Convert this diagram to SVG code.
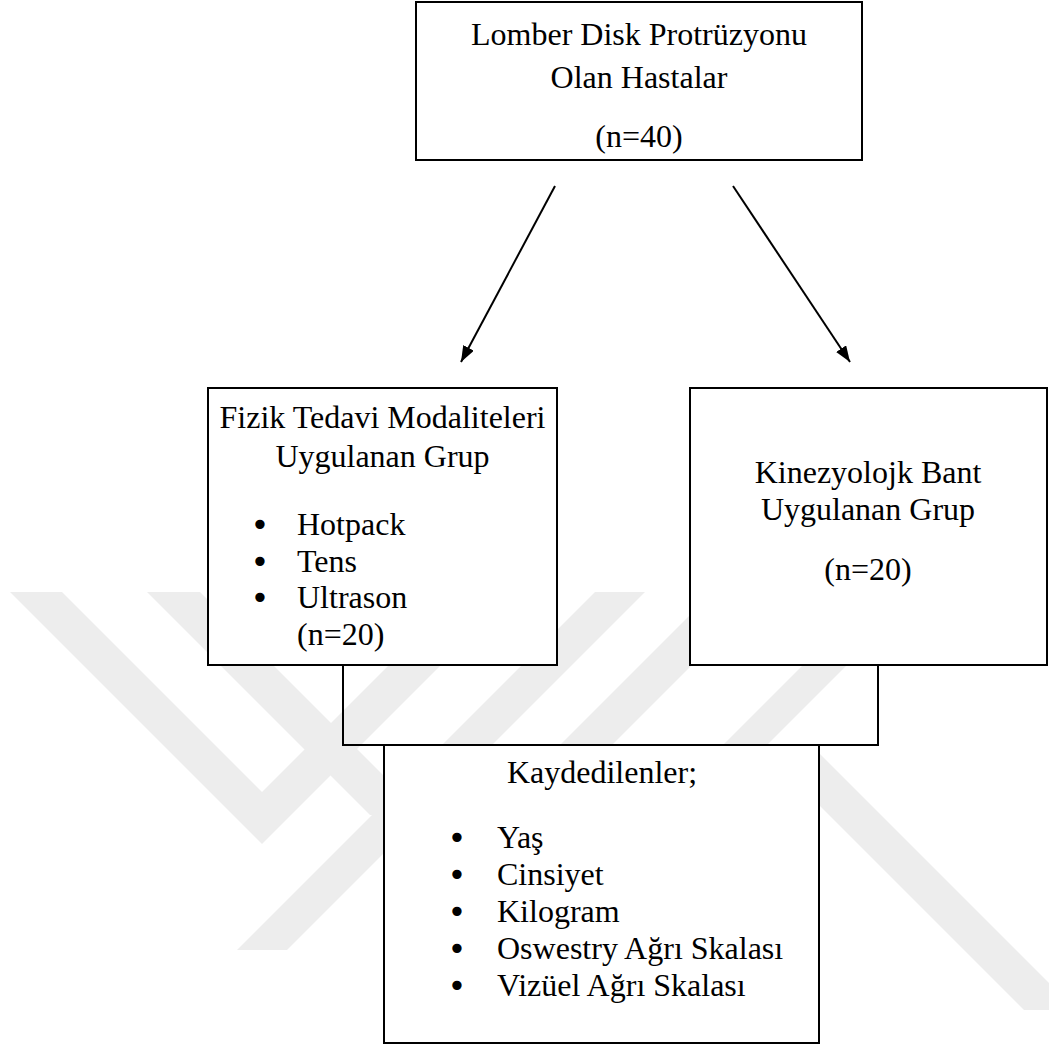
<svg xmlns="http://www.w3.org/2000/svg" width="1049" height="1048" viewBox="0 0 1049 1048">
<style>
.box{fill:#ffffff;stroke:#000;stroke-width:2}
.t{font-family:"Liberation Serif","Times New Roman",serif;font-size:32px;fill:#000}
.b{font-family:"DejaVu Sans",sans-serif;font-size:32px;fill:#000;text-anchor:middle}
.c{text-anchor:middle}
.wm{fill:#ededed}
.conn{fill:none;stroke:#000;stroke-width:2}
</style>
<defs>
<marker id="ahs" viewBox="0 0 16 12" refX="16" refY="6" markerWidth="16" markerHeight="12" markerUnits="userSpaceOnUse" orient="auto">
<path d="M0,0 L16,6 L0,12 z" fill="#000"/>
</marker>
</defs>
<rect width="1049" height="1048" fill="#ffffff"/>
<g id="watermark">
<polygon class="wm" points="10,592 62,592 262,792 462,592 514,592 262,844"/>
<polygon class="wm" points="147,592 200,592 423,815 370,815"/>
<polygon class="wm" points="595,592 645,592 287,950 237,950"/>
<polygon class="wm" points="713,592 765,592 597,760 545,760"/>
<polygon class="wm" points="876,592 920,592 752,760 708,760"/>
<polygon class="wm" points="759,745 811,745 1076,1010 1024,1010"/>
</g>
<g id="connectors">
<line class="conn" x1="555" y1="186" x2="461" y2="362" marker-end="url(#ahs)"/>
<line class="conn" x1="733" y1="186" x2="850" y2="362" marker-end="url(#ahs)"/>
<path class="conn" d="M343,665 V745 H878 V665"/>
</g>
<g id="node-top">
<rect class="box" x="416" y="2" width="446" height="158"/>
<text class="t c" x="639" y="45">Lomber Disk Protrüzyonu</text>
<text class="t c" x="639" y="88">Olan Hastalar</text>
<text class="t c" x="639" y="147">(n=40)</text>
</g>
<g id="node-left">
<rect class="box" x="208" y="388" width="349" height="277"/>
<text class="t c" x="382.5" y="428">Fizik Tedavi Modaliteleri</text>
<text class="t c" x="382.5" y="467">Uygulanan Grup</text>
<text class="b" x="260" y="536">•</text>
<text class="t" x="297" y="535">Hotpack</text>
<text class="b" x="260" y="573">•</text>
<text class="t" x="297" y="572">Tens</text>
<text class="b" x="260" y="609">•</text>
<text class="t" x="297" y="608">Ultrason</text>
<text class="t" x="297" y="645">(n=20)</text>
</g>
<g id="node-right">
<rect class="box" x="690" y="388" width="357" height="277"/>
<text class="t c" x="868" y="483">Kinezyolojk Bant</text>
<text class="t c" x="868" y="520">Uygulanan Grup</text>
<text class="t c" x="868" y="580">(n=20)</text>
</g>
<g id="node-bottom">
<rect class="box" x="384" y="745" width="435" height="298"/>
<text class="t c" x="602" y="783">Kaydedilenler;</text>
<text class="b" x="457" y="849">•</text>
<text class="t" x="497" y="848">Yaş</text>
<text class="b" x="457" y="886">•</text>
<text class="t" x="497" y="885">Cinsiyet</text>
<text class="b" x="457" y="923">•</text>
<text class="t" x="497" y="922">Kilogram</text>
<text class="b" x="457" y="960">•</text>
<text class="t" x="497" y="959">Oswestry Ağrı Skalası</text>
<text class="b" x="457" y="997">•</text>
<text class="t" x="497" y="996">Vizüel Ağrı Skalası</text>
</g>
</svg>
